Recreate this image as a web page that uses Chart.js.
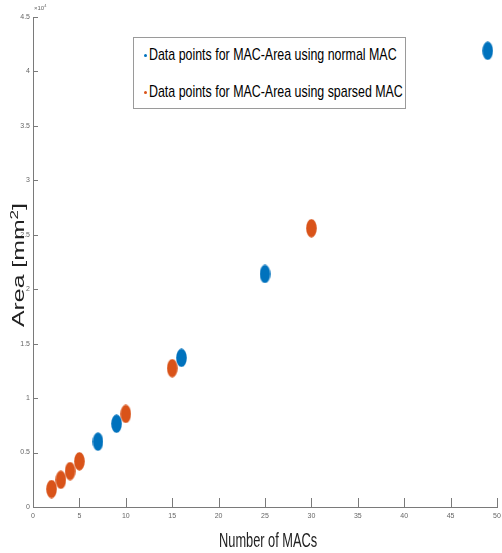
<!DOCTYPE html>
<html>
<head>
<meta charset="utf-8">
<script src="https://cdn.jsdelivr.net/npm/chart.js@4"></script>
<style>
html,body{margin:0;padding:0;background:#fff;}
#wrap{position:relative;width:502px;height:553px;}
#legend{position:absolute;left:133px;top:37px;width:273px;height:72px;border:1px solid #9a9a9a;background:#fff;box-sizing:border-box;font-family:"Liberation Sans",Arial,sans-serif;font-size:17px;color:#000;}
.li{position:absolute;left:0;white-space:nowrap;}
.dot{position:absolute;width:3px;height:3px;border-radius:50%;}
.lt{position:absolute;left:15px;top:-10px;transform:scaleX(0.73);transform-origin:0 0;}
#xt{position:absolute;left:219px;top:528px;font-family:"Liberation Sans",Arial,sans-serif;font-size:21px;color:#222;white-space:nowrap;transform:scaleX(0.61);transform-origin:0 0;}
#yt{position:absolute;left:18px;top:265px;font-family:"Liberation Sans",Arial,sans-serif;font-size:16px;color:#222;white-space:nowrap;}
#yt span{display:inline-block;transform:translate(-50%,-50%) rotate(-90deg) scaleX(1.55);}
#exp{position:absolute;left:34px;top:3px;font-family:"Liberation Sans",Arial,sans-serif;font-size:6px;color:#666;}
</style>
</head>
<body>
<div id="wrap">
<canvas id="c" width="502" height="553"></canvas>
<div id="legend">
  <div class="li" style="top:17px"><div class="dot" style="left:10px;top:-1px;background:#0072BD"></div><div class="lt">Data points for MAC-Area using normal MAC</div></div>
  <div class="li" style="top:54px"><div class="dot" style="left:10px;top:-1px;background:#D95319"></div><div class="lt">Data points for MAC-Area using sparsed MAC</div></div>
</div>
<div id="xt">Number of MACs</div>
<div id="yt"><span>Area [mm<sup style="font-size:11px">2</sup>]</span></div>
<div id="exp">×10<sup style="font-size:4px">4</sup></div>
</div>
<script>
// Data (area values in mm^2)
const normalMACs = [7, 9, 16, 25, 49];
const normalArea = [6000, 7650, 13700, 21400, 41900];
const sparsedMACs = [2, 3, 4, 5, 10, 15, 30];
const sparsedArea = [1650, 2500, 3300, 4200, 8550, 12750, 25600];
const xTicks = [0, 5, 10, 15, 20, 25, 30, 35, 40, 45, 50];
const yTicks = [0, 0.5, 1, 1.5, 2, 2.5, 3, 3.5, 4, 4.5];
const seriesLabels = ['Data points for MAC-Area using normal MAC', 'Data points for MAC-Area using sparsed MAC'];
const colors = ['#0072BD', '#D95319'];

function ellipse(color){
  const c = document.createElement('canvas');
  c.width = 11; c.height = 19;
  const g = c.getContext('2d');
  g.fillStyle = color;
  g.beginPath();
  g.ellipse(5.5, 9.5, 5.3, 9.3, 0, 0, Math.PI*2);
  g.fill();
  return c;
}

const pts = (xs, ys) => xs.map((x,i)=>({x:x, y:ys[i]}));

const tickMarks = {
  id:'tickMarks',
  afterDraw(chart){
    const ctx = chart.ctx, xs = chart.scales.x, ys = chart.scales.y;
    ctx.save();
    ctx.strokeStyle = '#7a7a7a';
    ctx.lineWidth = 1;
    ctx.beginPath();
    xTicks.forEach(v=>{
      const px = Math.round(xs.getPixelForValue(v))+0.5;
      ctx.moveTo(px, ys.bottom); ctx.lineTo(px, ys.bottom-9);
    });
    yTicks.forEach(v=>{
      const py = Math.round(ys.getPixelForValue(v*1e4))+0.5;
      ctx.moveTo(xs.left, py); ctx.lineTo(xs.left+5, py);
    });
    ctx.stroke();
    ctx.restore();
  }
};

new Chart(document.getElementById('c'), {
  type:'scatter',
  data:{
    datasets:[
      {label:seriesLabels[0], data:pts(normalMACs, normalArea), pointStyle:ellipse(colors[0]), backgroundColor:colors[0], borderColor:colors[0], borderWidth:0},
      {label:seriesLabels[1], data:pts(sparsedMACs, sparsedArea), pointStyle:ellipse(colors[1]), backgroundColor:colors[1], borderColor:colors[1], borderWidth:0}
    ]
  },
  options:{
    responsive:false,
    animation:false,
    layout:{autoPadding:false, padding:{top:17,right:5,left:0,bottom:0}},
    plugins:{legend:{display:false}, tooltip:{enabled:false}},
    scales:{
      x:{
        type:'linear', min:0, max:50,
        afterBuildTicks(s){ s.ticks = xTicks.map(v=>({value:v})); },
        afterFit(s){ s.height = 46; s.paddingLeft = 0; s.paddingRight = 0; },
        grid:{drawOnChartArea:false, drawTicks:false},
        border:{color:'#7a7a7a', width:1},
        ticks:{font:{size:7, family:'Liberation Sans, Arial'}, color:'#666', padding:5, maxRotation:0, autoSkip:false, callback:v=>String(v)}
      },
      y:{
        type:'linear', min:0, max:45000,
        afterBuildTicks(s){ s.ticks = yTicks.map(v=>({value:v*1e4})); },
        afterFit(s){ s.width = 33; s.paddingTop = 0; s.paddingBottom = 0; },
        grid:{drawOnChartArea:false, drawTicks:false},
        border:{color:'#7a7a7a', width:1},
        ticks:{font:{size:7, family:'Liberation Sans, Arial'}, color:'#666', padding:3, autoSkip:false, callback:v=>String(Math.round(v/1e3)/10)}
      }
    }
  },
  plugins:[tickMarks]
});
</script>
</body>
</html>
